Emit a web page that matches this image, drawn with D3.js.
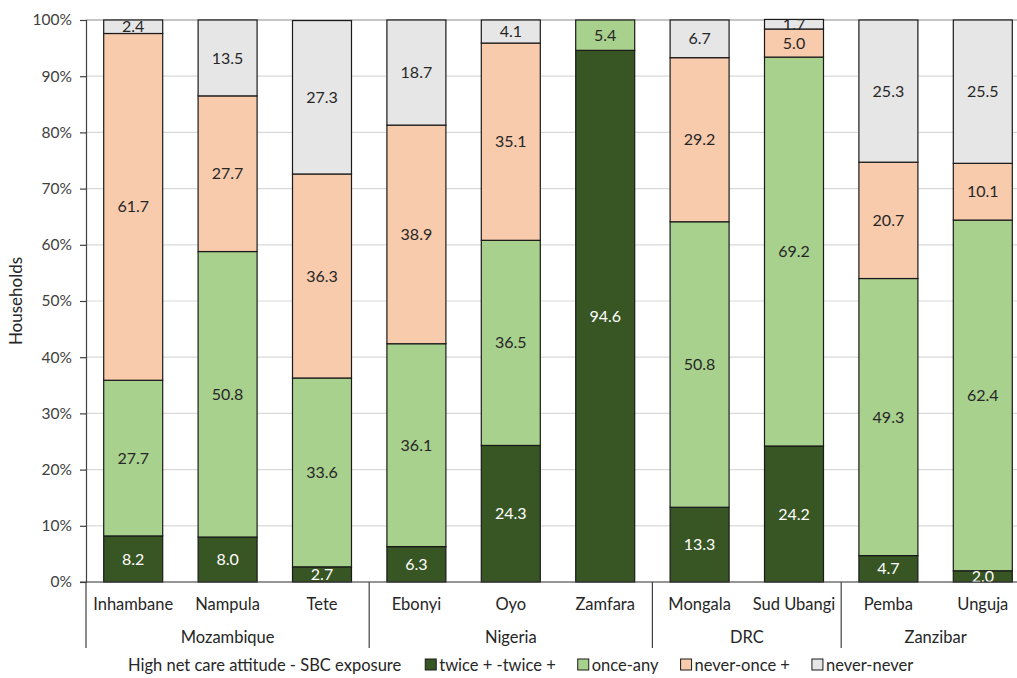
<!DOCTYPE html>
<html>
<head>
<meta charset="utf-8">
<script src="https://cdn.jsdelivr.net/npm/d3@7"></script>
<style>
  body { margin: 0; background: #fff; }
  svg text { font-family: Lato, "Open Sans", sans-serif; fill: #262626; }
</style>
</head>
<body>
<div id="chart"></div>
<script>
// data
const regions = ["Inhambane", "Nampula", "Tete", "Ebonyi", "Oyo", "Zamfara", "Mongala", "Sud Ubangi", "Pemba", "Unguja"]
const countries = ["Mozambique", "Mozambique", "Mozambique", "Nigeria", "Nigeria", "Nigeria", "DRC", "DRC", "Zanzibar", "Zanzibar"]
const seriesNames = ["twice + -twice +", "once-any", "never-once +", "never-never"]
const twiceTwice = [8.2, 8.0, 2.7, 6.3, 24.3, 94.6, 13.3, 24.2, 4.7, 2.0]
const onceAny = [27.7, 50.8, 33.6, 36.1, 36.5, 5.4, 50.8, 69.2, 49.3, 62.4]
const neverOnce = [61.7, 27.7, 36.3, 38.9, 35.1, 0, 29.2, 5.0, 20.7, 10.1]
const neverNever = [2.4, 13.5, 27.3, 18.7, 4.1, 0, 6.7, 1.7, 25.3, 25.5]
const yTicks = [0, 10, 20, 30, 40, 50, 60, 70, 80, 90, 100]
const colors = ["#375623", "#a9d18e", "#f8cbad", "#e7e6e6"]
const labelColors = ["#ffffff", "#262626", "#262626", "#262626"]
const legendTitle = "High net care attitude - SBC exposure"

const W = 1017, H = 678
const margin = { top: 20, left: 86, bottom: 96 }
const plotRight = 1030
const plotBottom = H - margin.bottom
const fs = "16.5px"

const rows = regions.map((r, i) => ({
  region: r,
  s0: twiceTwice[i], s1: onceAny[i], s2: neverOnce[i], s3: neverNever[i]
}))
const keys = ["s0", "s1", "s2", "s3"]
const stacked = d3.stack().keys(keys)(rows)

const svg = d3.select("#chart").append("svg")
  .attr("width", W).attr("height", H)

const x = d3.scaleBand().domain(regions).range([margin.left, plotRight]).paddingInner(0.375).paddingOuter(0.1875)
const y = d3.scaleLinear().domain([0, 100]).range([plotBottom, margin.top])

// gridlines
svg.append("g").selectAll("line")
  .data(yTicks)
  .join("line")
  .attr("x1", margin.left).attr("x2", plotRight)
  .attr("y1", d => y(d)).attr("y2", d => y(d))
  .attr("stroke", d => d === 100 ? "#8c8c8c" : "#d9d9d9")
  .attr("stroke-width", 1.2)

// bars
const layer = svg.append("g").selectAll("g")
  .data(stacked)
  .join("g")
  .attr("fill", (d, i) => colors[i])

layer.selectAll("rect")
  .data(d => d.filter(v => v[1] - v[0] > 0))
  .join("rect")
  .attr("x", d => x(d.data.region))
  .attr("width", x.bandwidth())
  .attr("y", d => y(d[1]))
  .attr("height", d => y(d[0]) - y(d[1]))
  .attr("stroke", "#1a1a1a")
  .attr("stroke-width", 1.2)

// value labels
stacked.forEach((s, si) => {
  svg.append("g").selectAll("text")
    .data(s.filter(v => v[1] - v[0] > 0))
    .join("text")
    .attr("x", d => x(d.data.region) + x.bandwidth() / 2)
    .attr("y", d => y((d[0] + d[1]) / 2))
    .attr("dy", "0.35em")
    .attr("text-anchor", "middle")
    .style("font-size", "16px")
    .style("fill", labelColors[si])
    .text(d => (d[1] - d[0]).toFixed(1))
})

// y axis
const yAxis = svg.append("g")
  .attr("transform", `translate(${margin.left},0)`)
  .call(d3.axisLeft(y).tickValues(yTicks).tickSize(6).tickPadding(8).tickFormat(d => d + "%"))
yAxis.selectAll(".domain").attr("stroke", "#404040").attr("stroke-width", 1.2)
yAxis.selectAll(".tick line").attr("stroke", "#404040").attr("stroke-width", 1.2)
yAxis.selectAll(".tick text").style("font-size", "15.5px").style("fill", "#404040").attr("font-family", null)

svg.append("text")
  .attr("transform", `translate(22,${(margin.top + plotBottom) / 2}) rotate(-90)`)
  .attr("text-anchor", "middle")
  .style("font-size", "17px")
  .text("Households")

// x axis baseline
svg.append("line")
  .attr("x1", margin.left - 6).attr("x2", plotRight)
  .attr("y1", plotBottom).attr("y2", plotBottom)
  .attr("stroke", "#404040").attr("stroke-width", 1.2)

// region labels
svg.append("g").selectAll("text")
  .data(regions)
  .join("text")
  .attr("x", d => x(d) + x.bandwidth() / 2)
  .attr("y", plotBottom + 28)
  .attr("text-anchor", "middle")
  .style("font-size", fs)
  .text(d => d)

// country groups
const step = x.step()
const groups = []
countries.forEach((c, i) => {
  if (!groups.length || groups[groups.length - 1].name !== c) groups.push({ name: c, start: i, end: i })
  else groups[groups.length - 1].end = i
})
const groupLeft = g => margin.left + g.start * step
const groupRight = g => margin.left + (g.end + 1) * step

svg.append("g").selectAll("line")
  .data(groups)
  .join("line")
  .attr("x1", groupLeft).attr("x2", groupLeft)
  .attr("y1", plotBottom).attr("y2", plotBottom + 66)
  .attr("stroke", "#404040").attr("stroke-width", 1.2)

svg.append("g").selectAll("text")
  .data(groups)
  .join("text")
  .attr("x", g => (groupLeft(g) + groupRight(g)) / 2)
  .attr("y", plotBottom + 61)
  .attr("text-anchor", "middle")
  .style("font-size", fs)
  .text(g => g.name)

// legend
const legend = svg.append("g").attr("transform", `translate(0,${H - 7})`)
const title = legend.append("text")
  .attr("x", 128).attr("y", 0)
  .style("font-size", fs)
  .text(legendTitle)
let lx = 128 + title.node().getComputedTextLength() + 24
seriesNames.forEach((name, i) => {
  legend.append("rect")
    .attr("x", lx).attr("y", -12).attr("width", 11).attr("height", 11)
    .attr("fill", colors[i]).attr("stroke", "#1a1a1a").attr("stroke-width", 1)
  const t = legend.append("text")
    .attr("x", lx + 14).attr("y", 0)
    .style("font-size", fs)
    .text(name)
  lx += 14 + t.node().getComputedTextLength() + 22
})
</script>
</body>
</html>
